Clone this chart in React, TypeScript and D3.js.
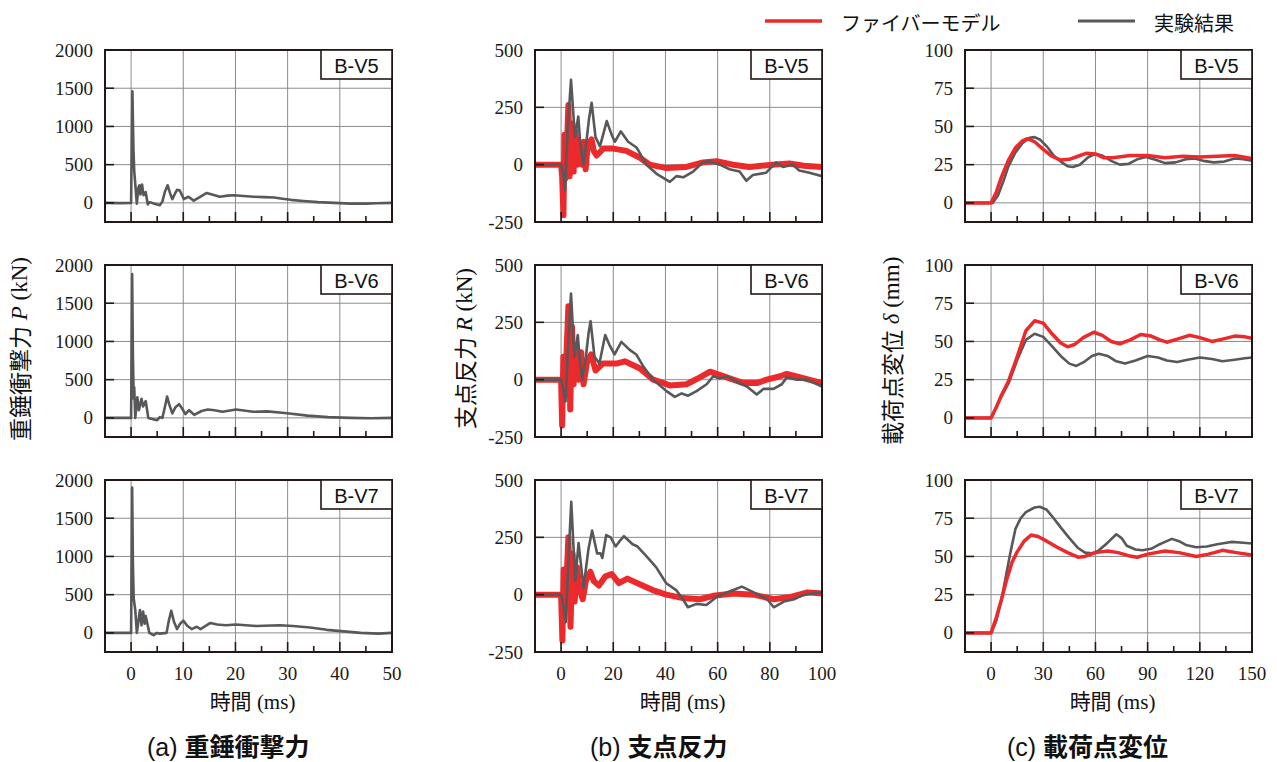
import * as d3 from 'd3'
import { useEffect, useRef } from 'react'

type Pt = [number, number]

// specimens (one row each)
const specimens = ['B-V5', 'B-V6', 'B-V7']
const seriesNames = ['ファイバーモデル', '実験結果']

// (a) 重錘衝撃力 P (kN) - experiment only
const impactV5: Pt[] = [
  [-5, 0], [-2, -3], [0, 0], [0.1, 600], [0.25, 1460], [0.45, 700], [0.6, 420], [1.1, -10], [1.4, 200], [1.6, 230],
  [1.8, 110], [2.1, 240], [2.4, 100], [2.8, 140], [3.2, -20], [3.6, 10], [4.5, -10], [5.5, -30], [6.0, 20], [6.5, 150],
  [7.0, 230], [7.5, 120], [7.9, 50], [8.4, 120], [8.8, 170], [9.3, 165], [10.1, 50], [11, 80], [12, 30], [13, 70],
  [14.5, 130], [16, 100], [17, 80], [18.5, 95], [19.7, 100], [21.5, 90], [23.5, 80], [25.5, 75], [27.4, 70], [29, 55],
  [30.6, 40], [33, 25], [35.8, 10], [39, 0], [42, -10], [45, -10], [47, -5], [50, 0],
]
const impactV6: Pt[] = [
  [-5, 0], [0, 0], [0.1, 900], [0.2, 1880], [0.35, 800], [0.5, 250], [0.6, 400], [0.8, 0], [1.2, 270], [1.5, 100],
  [2.0, 250], [2.3, 150], [2.8, 220], [3.3, 0], [4.4, -20], [5, -30], [5.5, 10], [6.0, 0], [6.5, 150], [6.9, 280],
  [7.3, 180], [7.9, 60], [8.5, 140], [9.2, 180], [9.8, 120], [10.4, 50], [11.1, 100], [12.1, 40], [13.5, 90], [14.7, 110],
  [16, 100], [17.5, 80], [20.1, 110], [23.4, 80], [26.1, 85], [29.9, 60], [33.8, 30], [37.7, 10], [42, 0], [46, -5], [50, 0],
]
const impactV7: Pt[] = [
  [-5, 0], [0, 0], [0.1, 900], [0.2, 1900], [0.35, 900], [0.5, 450], [0.8, 300], [1.1, 0], [1.7, 300], [2.0, 100],
  [2.3, 280], [2.6, 120], [2.8, 220], [3.5, 0], [4.3, -30], [5, 0], [5.5, -10], [6.8, 0], [7.2, 150], [7.7, 290],
  [8.2, 150], [8.8, 50], [9.4, 120], [10, 160], [10.8, 90], [11.6, 50], [12.6, 80], [13.3, 50], [15.2, 130], [16.5, 110],
  [18.2, 100], [20.1, 110], [24, 90], [28.5, 100], [31, 90], [34.3, 70], [37.5, 40], [40.8, 20], [44, 0], [47.3, -10], [50, 0],
]

// (b) 支点反力 R (kN)
const reactionTestV5: Pt[] = [
  [-10, 0], [0, 0], [0.8, -40], [1.5, -110], [2.5, 150], [3.8, 370], [5.3, 120], [6.6, 210], [7.3, 100], [8.5, 0],
  [9.5, 80], [10.7, 200], [11.7, 270], [13.2, 120], [14.9, 80], [17.5, 190], [19.4, 130], [20.6, 100], [22.9, 145], [25.7, 100],
  [28.9, 75], [32.7, 0], [36.6, -40], [41.7, -75], [44.2, -50], [46.8, -55], [50.6, -30], [54.4, 10], [57, 15], [60.8, 0],
  [64.6, -20], [68.4, -30], [71, -70], [73.5, -45], [78.6, -35], [82.4, 10], [85, -10], [88.8, 0], [91.3, -25], [95.2, -35], [100, -50],
]
const reactionModelV5: Pt[] = [
  [-10, 0], [0, 0], [0.4, -50], [0.9, -220], [1.3, 130], [1.7, -60], [2.3, 100], [2.8, 260], [3.3, -50], [3.8, 100],
  [4.3, 180], [4.8, -30], [5.3, 150], [5.7, 120], [6.3, 0], [6.9, 100], [7.5, 80], [8.2, 0], [8.7, 100], [9.4, -20],
  [10, 60], [11, 100], [11.7, 110], [12.5, 60], [13.6, 40], [16.2, 70], [20, 70], [25, 60], [30.2, 30], [34, 0],
  [40.4, -15], [48, -10], [54.4, 10], [59.5, 15], [65.9, 0], [72.2, -10], [81, 0], [87.5, 5], [93, -5], [100, -10],
]
const reactionTestV6: Pt[] = [
  [-10, 0], [0, 0], [0.8, -40], [1.7, -95], [2.7, 150], [3.8, 375], [5.1, 100], [6.4, 195], [7.2, 80], [8.1, 0],
  [9.5, 100], [10.5, 200], [11.3, 255], [12.8, 100], [14.7, 70], [16.9, 195], [18.6, 150], [20.5, 110], [23.1, 165], [26.3, 130],
  [28.8, 110], [31.4, 60], [35.3, 0], [40.4, -50], [43.6, -75], [46.2, -60], [48.7, -70], [51.9, -50], [55.8, -20], [58.3, 15],
  [60.8, 5], [63.5, 15], [67.3, -10], [71.2, -30], [75, -65], [77.6, -40], [81.4, -40], [84.6, -20], [86.5, 10], [90.4, 0],
  [94.2, 0], [100, -30],
]
const reactionModelV6: Pt[] = [
  [-10, 0], [0, 0], [0.4, -200], [0.9, 100], [1.5, -50], [2.2, 150], [2.8, 320], [3.5, -130], [4.2, 230], [4.8, -20],
  [5.8, 150], [6.7, 0], [7.7, 120], [8.6, -20], [10, 80], [11.5, 110], [13.2, 40], [16, 70], [21.2, 70], [24.4, 80],
  [30.1, 50], [35.3, 0], [41.7, -25], [48.1, -20], [53.2, 10], [57.1, 35], [63.5, 10], [69.9, -15], [75, -15], [78.8, 0],
  [84, 15], [86.5, 25], [91.7, 10], [100, -15],
]
const reactionTestV7: Pt[] = [
  [-10, 0], [0, 0], [0.8, -40], [1.8, -120], [2.8, 150], [3.9, 405], [5.4, 60], [6.7, 225], [8.6, 30], [10.5, 200],
  [11.9, 280], [13.8, 180], [15.1, 180], [15.8, 160], [17.3, 260], [19, 250], [20.9, 210], [22.2, 230], [24.1, 255], [27.4, 220],
  [29.3, 210], [32.5, 170], [36.4, 120], [40.3, 50], [44.1, 20], [46.7, -20], [48.6, -55], [51.9, -40], [55.7, -45], [59.6, -10],
  [63.5, 10], [66, 20], [69.3, 35], [73.8, 10], [79, -20], [81.5, -55], [85.4, -30], [89.3, -20], [93.2, 0], [100, 10],
]
const reactionModelV7: Pt[] = [
  [-10, 0], [0, 0], [0.5, -200], [1.0, 110], [1.6, -50], [2.3, 120], [2.8, 250], [3.6, -140], [4.4, 180], [5.2, -30],
  [6.1, 120], [7.2, 20], [8.3, -20], [9.5, 60], [11.2, 100], [12.5, 60], [14.5, 40], [17, 80], [19.4, 90], [22.2, 50],
  [25.4, 70], [31.2, 40], [35.1, 20], [40.3, 0], [46.7, -15], [53.2, -20], [58.3, -5], [66.1, 5], [73.8, 0], [81.5, -20],
  [88, -10], [94.5, 10], [100, 5],
]

// (c) 載荷点変位 δ (mm)
const dispTestV5: Pt[] = [
  [-15, 0], [1, 0], [4, 5], [7, 14], [10, 24], [14, 33], [18, 39], [22, 42.5], [25, 43], [28, 41.5],
  [32, 37], [36, 31], [40, 27], [44, 24], [47, 23.5], [51, 25], [56, 30], [60, 32], [64, 31], [69, 27.5],
  [74, 25], [79, 25.5], [84, 28.5], [89, 30], [95, 28], [100, 26], [106, 26.5], [112, 28.5], [117, 29], [122, 27.5],
  [128, 26.5], [134, 27], [140, 29], [145, 28.5], [150, 27.5],
]
const dispModelV5: Pt[] = [
  [-15, 0], [0, 0], [3, 7], [6, 17], [10, 28], [14, 36], [18, 40.5], [21, 42], [25, 40], [30, 35],
  [35, 30.5], [40, 28], [45, 28.5], [50, 30.5], [55, 32.5], [60, 32], [65, 29.5], [70, 29.5], [80, 31], [90, 31],
  [100, 29.5], [110, 30.5], [120, 30], [130, 30.5], [140, 31], [150, 29],
]
const dispTestV6: Pt[] = [
  [-15, 0], [0, 0], [3, 7], [6, 14], [10, 22.5], [15, 37.8], [20, 51], [25, 55], [30, 53], [35, 47],
  [40, 40.5], [45, 35.5], [49, 34], [54, 37], [58, 40.5], [62, 42], [67, 40.5], [72, 37], [77, 35.5], [83, 37.5],
  [90, 40.5], [96, 39.5], [101, 37.5], [107, 36.5], [113, 38], [120, 39.5], [127, 38.5], [133, 37], [140, 38], [146, 39], [150, 39.5],
]
const dispModelV6: Pt[] = [
  [-15, 0], [0, 0], [3, 7], [6, 15], [10, 24], [15, 40], [20, 57], [25, 63.5], [30, 62], [35, 55],
  [40, 49], [44, 46.5], [48, 48], [53, 52.5], [59, 56], [64, 54], [69, 50], [74, 48.5], [80, 51], [86, 54.5],
  [92, 53.5], [97, 51], [101, 49.5], [107, 51.5], [114, 54], [120, 52.5], [127, 50], [133, 51.5], [140, 53.5], [146, 53], [150, 52],
]
const dispTestV7: Pt[] = [
  [-15, 0], [0, 0], [3, 8], [6, 22], [9, 40], [11, 52], [14, 68], [17, 75], [20, 79], [25, 82],
  [28, 82.5], [32, 80.5], [36, 75], [40, 69], [45, 62], [50, 55.5], [54, 52.5], [58, 52], [62, 54], [67, 59],
  [72, 64.5], [75, 62], [78, 57], [83, 54.5], [87, 54], [92, 55], [97, 58], [100, 59.5], [104, 61.5], [108, 60],
  [112, 57.5], [118, 56], [124, 56.5], [130, 58], [138, 59.5], [145, 59], [150, 58.5],
]
const dispModelV7: Pt[] = [
  [-15, 0], [0, 0], [3, 10], [6, 22], [9, 35], [12, 46], [15, 53], [19, 60], [23, 64], [27, 63],
  [32, 60], [38, 56], [44, 52.5], [50, 49.5], [54, 50], [60, 52.5], [67, 53.5], [73, 52.5], [79, 50.5], [84, 49.5],
  [90, 51.5], [100, 53.5], [108, 52.5], [118, 50], [125, 51.5], [133, 54], [141, 52.5], [150, 51],
]

// axes
const timeTicksA = [0, 10, 20, 30, 40, 50]
const timeMinorA = [5, 15, 25, 35, 45]
const timeTicksB = [0, 20, 40, 60, 80, 100]
const timeMinorB = [10, 30, 50, 70, 90]
const timeTicksC = [0, 30, 60, 90, 120, 150]
const timeMinorC = [15, 45, 75, 105, 135]
const forceTicks = [0, 500, 1000, 1500, 2000]
const reactionTicks = [-250, 0, 250, 500]
const dispTicks = [0, 25, 50, 75, 100]

const RED = '#ec2a2c'
const GRAY = '#58585a'
const INK = '#231815'
const GRID = '#8c8c8c'
const SERIF = '"Liberation Serif", "Times New Roman", serif'
const SANS = '"Liberation Sans", Arial, sans-serif'
const CJK = '"Noto Sans CJK JP", sans-serif'

const WIDTH = 1277
const HEIGHT = 762
const PLOT_W = 287
const PLOT_H = 172
const COL_X = [105, 535, 965]
const ROW_Y = [50, 265, 480]

const columns = [
  {
    xDomain: [-5, 50], yDomain: [-250, 2000], xTicks: timeTicksA, xMinor: timeMinorA, yTicks: forceTicks,
    model: [] as Pt[][], test: [impactV5, impactV6, impactV7], modelWidth: 0, modelOnTop: false,
    yLabel: ['重錘衝撃力', 'P', '(kN)'], yLabelX: 19, yLabelBottom: 441,
    caption: ['(a)', '重錘衝撃力'], captionX: 147,
  },
  {
    xDomain: [-10, 100], yDomain: [-250, 500], xTicks: timeTicksB, xMinor: timeMinorB, yTicks: reactionTicks,
    model: [reactionModelV5, reactionModelV6, reactionModelV7], test: [reactionTestV5, reactionTestV6, reactionTestV7],
    modelWidth: 6, modelOnTop: false,
    yLabel: ['支点反力', 'R', '(kN)'], yLabelX: 464, yLabelBottom: 429,
    caption: ['(b)', '支点反力'], captionX: 590,
  },
  {
    xDomain: [-15, 150], yDomain: [-12.5, 100], xTicks: timeTicksC, xMinor: timeMinorC, yTicks: dispTicks,
    model: [dispModelV5, dispModelV6, dispModelV7], test: [dispTestV5, dispTestV6, dispTestV7],
    modelWidth: 3.5, modelOnTop: true,
    yLabel: ['載荷点変位', 'δ', '(mm)'], yLabelX: 891, yLabelBottom: 445,
    caption: ['(c)', '載荷点変位'], captionX: 1007,
  },
]

const drawFigure = (node: SVGSVGElement) => {
  const svg = d3.select(node)
  svg.selectAll('*').remove()

  columns.forEach((col, ci) => {
    const x = d3.scaleLinear().domain(col.xDomain).range([0, PLOT_W])

    specimens.forEach((name, ri) => {
      const y = d3.scaleLinear().domain(col.yDomain).range([PLOT_H, 0])
      const g = svg.append('g').attr('transform', `translate(${COL_X[ci]},${ROW_Y[ri]})`)
      const clipId = `clip-${ci}-${ri}`
      g.append('clipPath').attr('id', clipId)
        .append('rect').attr('width', PLOT_W).attr('height', PLOT_H)

      // grid
      g.selectAll('.vgrid')
        .data(col.xTicks.filter(t => t > col.xDomain[0] && t < col.xDomain[1]))
        .join('line')
        .attr('x1', d => x(d)).attr('x2', d => x(d))
        .attr('y1', 0).attr('y2', PLOT_H)
        .attr('stroke', GRID).attr('stroke-width', 1)
      g.selectAll('.hgrid')
        .data(col.yTicks.filter(t => t > col.yDomain[0] && t < col.yDomain[1]))
        .join('line')
        .attr('x1', 0).attr('x2', PLOT_W)
        .attr('y1', d => y(d)).attr('y2', d => y(d))
        .attr('stroke', GRID).attr('stroke-width', 1)

      const line = d3.line<Pt>().x(d => x(d[0])).y(d => y(d[1]))
      const plot = g.append('g').attr('clip-path', `url(#${clipId})`)
      const drawModel = () => {
        if (col.model.length) {
          plot.append('path').datum(col.model[ri])
            .attr('d', line).attr('fill', 'none')
            .attr('stroke', RED).attr('stroke-width', col.modelWidth)
            .attr('stroke-linejoin', 'round')
        }
      }
      const drawTest = () => {
        plot.append('path').datum(col.test[ri])
          .attr('d', line).attr('fill', 'none')
          .attr('stroke', GRAY).attr('stroke-width', 2.6)
          .attr('stroke-linejoin', 'round')
      }
      if (col.modelOnTop) { drawTest(); drawModel() } else { drawModel(); drawTest() }

      // frame
      g.append('rect').attr('width', PLOT_W).attr('height', PLOT_H)
        .attr('fill', 'none').attr('stroke', INK).attr('stroke-width', 2)

      // ticks (inward)
      g.selectAll('.xmaj').data(col.xTicks).join('line')
        .attr('x1', d => x(d)).attr('x2', d => x(d))
        .attr('y1', PLOT_H).attr('y2', PLOT_H - 10)
        .attr('stroke', INK).attr('stroke-width', 1.6)
      g.selectAll('.xmin').data(col.xMinor).join('line')
        .attr('x1', d => x(d)).attr('x2', d => x(d))
        .attr('y1', PLOT_H).attr('y2', PLOT_H - 6)
        .attr('stroke', INK).attr('stroke-width', 1.6)
      g.selectAll('.ymaj').data(col.yTicks).join('line')
        .attr('x1', 0).attr('x2', 9)
        .attr('y1', d => y(d)).attr('y2', d => y(d))
        .attr('stroke', INK).attr('stroke-width', 1.6)

      // y tick labels
      g.selectAll('.ylab').data(col.yTicks).join('text')
        .attr('x', -12).attr('y', d => y(d))
        .attr('text-anchor', 'end').attr('dominant-baseline', 'central')
        .attr('font-family', SERIF).attr('font-size', 19).attr('fill', INK)
        .text(d => String(d))

      // x tick labels on the bottom row
      if (ri === specimens.length - 1) {
        g.selectAll('.xlab').data(col.xTicks).join('text')
          .attr('x', d => x(d)).attr('y', PLOT_H + 28)
          .attr('text-anchor', 'middle')
          .attr('font-family', SERIF).attr('font-size', 19).attr('fill', INK)
          .text(d => String(d))
      }

      // specimen box
      g.append('rect').attr('x', PLOT_W - 71).attr('y', 0).attr('width', 71).attr('height', 29)
        .attr('fill', '#fff').attr('stroke', INK).attr('stroke-width', 1.6)
      g.append('text').attr('x', PLOT_W - 35.5).attr('y', 22.5)
        .attr('text-anchor', 'middle')
        .attr('font-family', SANS).attr('font-size', 20).attr('fill', '#111')
        .text(name)
    })

    // x axis title
    const xt = svg.append('text')
      .attr('x', COL_X[ci] + PLOT_W / 2 + 4).attr('y', 709)
      .attr('text-anchor', 'middle').attr('fill', '#111')
    xt.append('tspan').attr('font-family', CJK).attr('font-size', 21).text('時間')
    xt.append('tspan').attr('font-family', SERIF).attr('font-size', 21).text(' (ms)')

    // y axis title (rotated)
    const yt = svg.append('text')
      .attr('transform', `translate(${col.yLabelX},${col.yLabelBottom}) rotate(-90)`)
      .attr('dominant-baseline', 'central').attr('fill', '#111')
    yt.append('tspan').attr('font-family', CJK).attr('font-size', 23).text(col.yLabel[0])
    yt.append('tspan').attr('font-family', SERIF).attr('font-size', 23).attr('font-style', 'italic')
      .text(' ' + col.yLabel[1])
    yt.append('tspan').attr('font-family', SERIF).attr('font-size', 23).text(' ' + col.yLabel[2])

    // caption
    const cap = svg.append('text').attr('x', col.captionX).attr('y', 756).attr('fill', '#111')
    cap.append('tspan').attr('font-family', SANS).attr('font-size', 25).text(col.caption[0] + ' ')
    cap.append('tspan').attr('font-family', CJK).attr('font-weight', 'bold').attr('font-size', 25).text(col.caption[1])
  })

  // legend
  const legend = [
    { name: seriesNames[0], color: RED, x: 765, width: 3.5 },
    { name: seriesNames[1], color: GRAY, x: 1078, width: 3 },
  ]
  legend.forEach(item => {
    svg.append('line')
      .attr('x1', item.x).attr('x2', item.x + 57).attr('y1', 21).attr('y2', 21)
      .attr('stroke', item.color).attr('stroke-width', item.width)
    svg.append('text').attr('x', item.x + 76).attr('y', 22)
      .attr('dominant-baseline', 'central')
      .attr('font-family', CJK).attr('font-size', 20).attr('fill', '#111')
      .text(item.name)
  })
}

export default function App() {
  const ref = useRef<SVGSVGElement>(null)

  useEffect(() => {
    if (ref.current) drawFigure(ref.current)
  }, [])

  return (
    <svg
      ref={ref}
      width={WIDTH}
      height={HEIGHT}
      style={{ position: 'absolute', left: 0, top: 0, background: '#fff' }}
    />
  )
}
